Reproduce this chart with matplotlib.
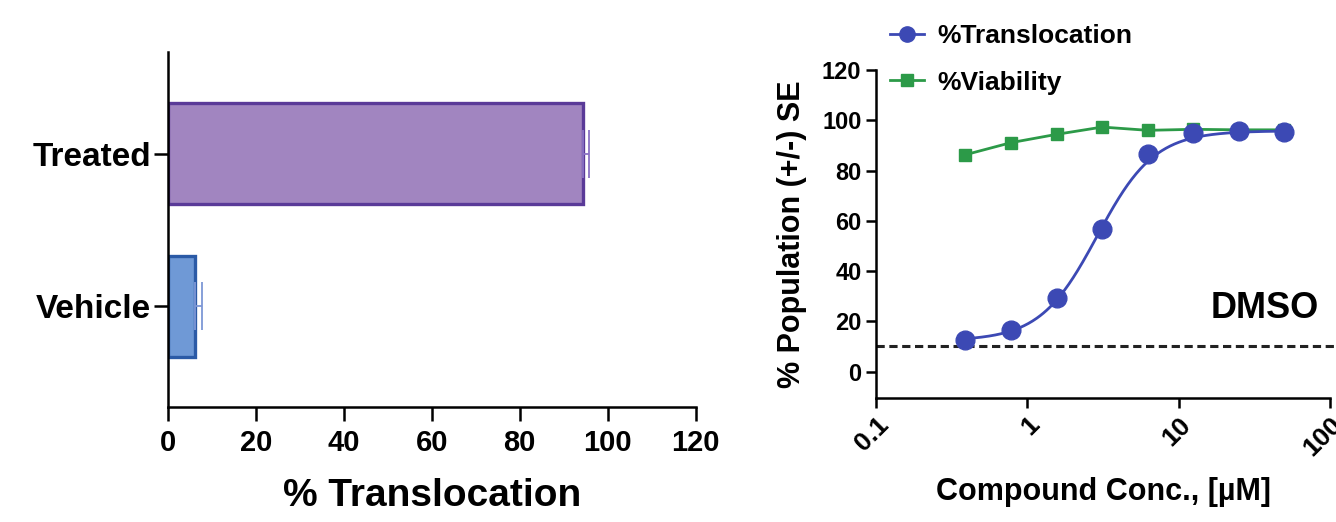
import numpy as np
import matplotlib
matplotlib.use("Agg")
import matplotlib.pyplot as plt

# left panel: bar data
groups = ["Vehicle", "Treated"]
translocation_pct = [6.1, 94.3]
translocation_se = [1.7, 1.4]

# right panel: dose response
conc_um = [0.39, 0.78, 1.56, 3.125, 6.25, 12.5, 25, 50]
transloc_pct = [12.5, 16.7, 29.2, 56.8, 86.6, 95.1, 95.7, 95.5]
viability_pct = [86.3, 91.1, 94.4, 97.3, 96.0, 96.4, 96.2, 96.2]
# 4PL fit parameters: bottom, top, EC50, hill
fit_params = [12.3, 95.8, 2.9, 2.3]
dmso_level = 10

sans = ["Liberation Sans", "DejaVu Sans"]

fig = plt.figure(figsize=(13.36, 5.22), dpi=100)

# ---------------- left: bar chart ----------------
ax = fig.add_axes([0.1257, 0.2203, 0.395, 0.680])
fills = ["#6f99d6", "#a185c0"]
edges = ["#2b5aa6", "#5a3a98"]
errc = ["#7d97d6", "#8a72c4"]
ypos = np.arange(len(groups))
ax.barh(ypos, translocation_pct, height=0.66, color=fills, edgecolor=edges, linewidth=2.4, zorder=2)
for i in range(len(groups)):
    ax.errorbar(translocation_pct[i], ypos[i], xerr=[[0], [translocation_se[i]]],
                fmt="none", ecolor=errc[i], elinewidth=1.3, capsize=17, capthick=1.3, zorder=3)
ax.set_xlim(0, 120)
ax.set_ylim(-0.66, 1.666)
ax.set_xticks(range(0, 121, 20))
ax.set_yticks(ypos)
ax.set_yticklabels(groups)
for s in ["top", "right"]:
    ax.spines[s].set_visible(False)
for s in ["left", "bottom"]:
    ax.spines[s].set_linewidth(1.8)
ax.tick_params(axis="x", length=10, width=1.8, pad=6)
ax.tick_params(axis="y", length=10, width=1.8, pad=2)
for lab in ax.get_xticklabels():
    lab.set_fontfamily(sans); lab.set_fontweight("bold"); lab.set_fontsize(21)
for lab in ax.get_yticklabels():
    lab.set_fontfamily(sans); lab.set_fontweight("bold"); lab.set_fontsize(24)
ax.set_xlabel("% Translocation", family=sans, fontweight="bold", fontsize=28, labelpad=15)

# ---------------- right: dose response ----------------
ax2 = fig.add_axes([0.6557, 0.2375, 0.3398, 0.6284])
blue = "#3c49b4"
green = "#2c9a48"
b, t, ec50, h = fit_params
xs = np.logspace(np.log10(conc_um[0]), np.log10(conc_um[-1]), 300)
ax2.plot(xs, b + (t - b) / (1 + (ec50 / xs) ** h), color=blue, lw=2.0, zorder=3)
ax2.plot(conc_um, viability_pct, color=green, lw=2.0, marker="s", markersize=9, zorder=2)
ax2.plot(conc_um, transloc_pct, "o", color=blue, markersize=13.5, zorder=4)
ax2.axhline(dmso_level, xmin=0, xmax=1.02, color="#222222", lw=2.2, ls=(0, (2.7, 1.5)),
            clip_on=False, zorder=1)
ax2.text(0.975, 25, "DMSO", transform=ax2.get_yaxis_transform(), ha="right", va="center",
         family=sans, fontweight="bold", fontsize=26)
ax2.set_xscale("log")
ax2.set_xlim(0.1, 100)
ax2.set_ylim(-10.5, 120)
ax2.set_yticks(range(0, 121, 20))
ax2.set_xticks([0.1, 1, 10, 100])
ax2.set_xticklabels(["0.1", "1", "10", "100"])
ax2.xaxis.set_minor_locator(matplotlib.ticker.NullLocator())
for s in ["top", "right"]:
    ax2.spines[s].set_visible(False)
for s in ["left", "bottom"]:
    ax2.spines[s].set_linewidth(1.8)
ax2.tick_params(length=7, width=1.8)
for lab in ax2.get_yticklabels():
    lab.set_fontfamily(sans); lab.set_fontweight("bold"); lab.set_fontsize(17)
for lab in ax2.get_xticklabels():
    lab.set_fontfamily(sans); lab.set_fontweight("bold"); lab.set_fontsize(19)
    lab.set_rotation(45); lab.set_ha("right"); lab.set_rotation_mode("anchor")
ax2.set_ylabel("% Population (+/-) SE", family=sans, fontweight="bold", fontsize=22, labelpad=11)
ax2.set_xlabel("Compound Conc., [µM]", family=sans, fontweight="bold", fontsize=22, labelpad=12)

h_tr = matplotlib.lines.Line2D([], [], color=blue, lw=2.0, marker="o", markersize=11)
h_vi = matplotlib.lines.Line2D([], [], color=green, lw=2.0, marker="s", markersize=8)
ax2.legend([h_tr, h_vi], ["%Translocation", "%Viability"], loc="upper left",
           bbox_to_anchor=(0.03, 1.14), frameon=False, handlelength=1.3,
           handletextpad=0.5, labelspacing=0.85, borderpad=0, borderaxespad=0,
           prop={"family": sans, "weight": "bold", "size": 19})

fig.savefig("out.png", dpi=100)
